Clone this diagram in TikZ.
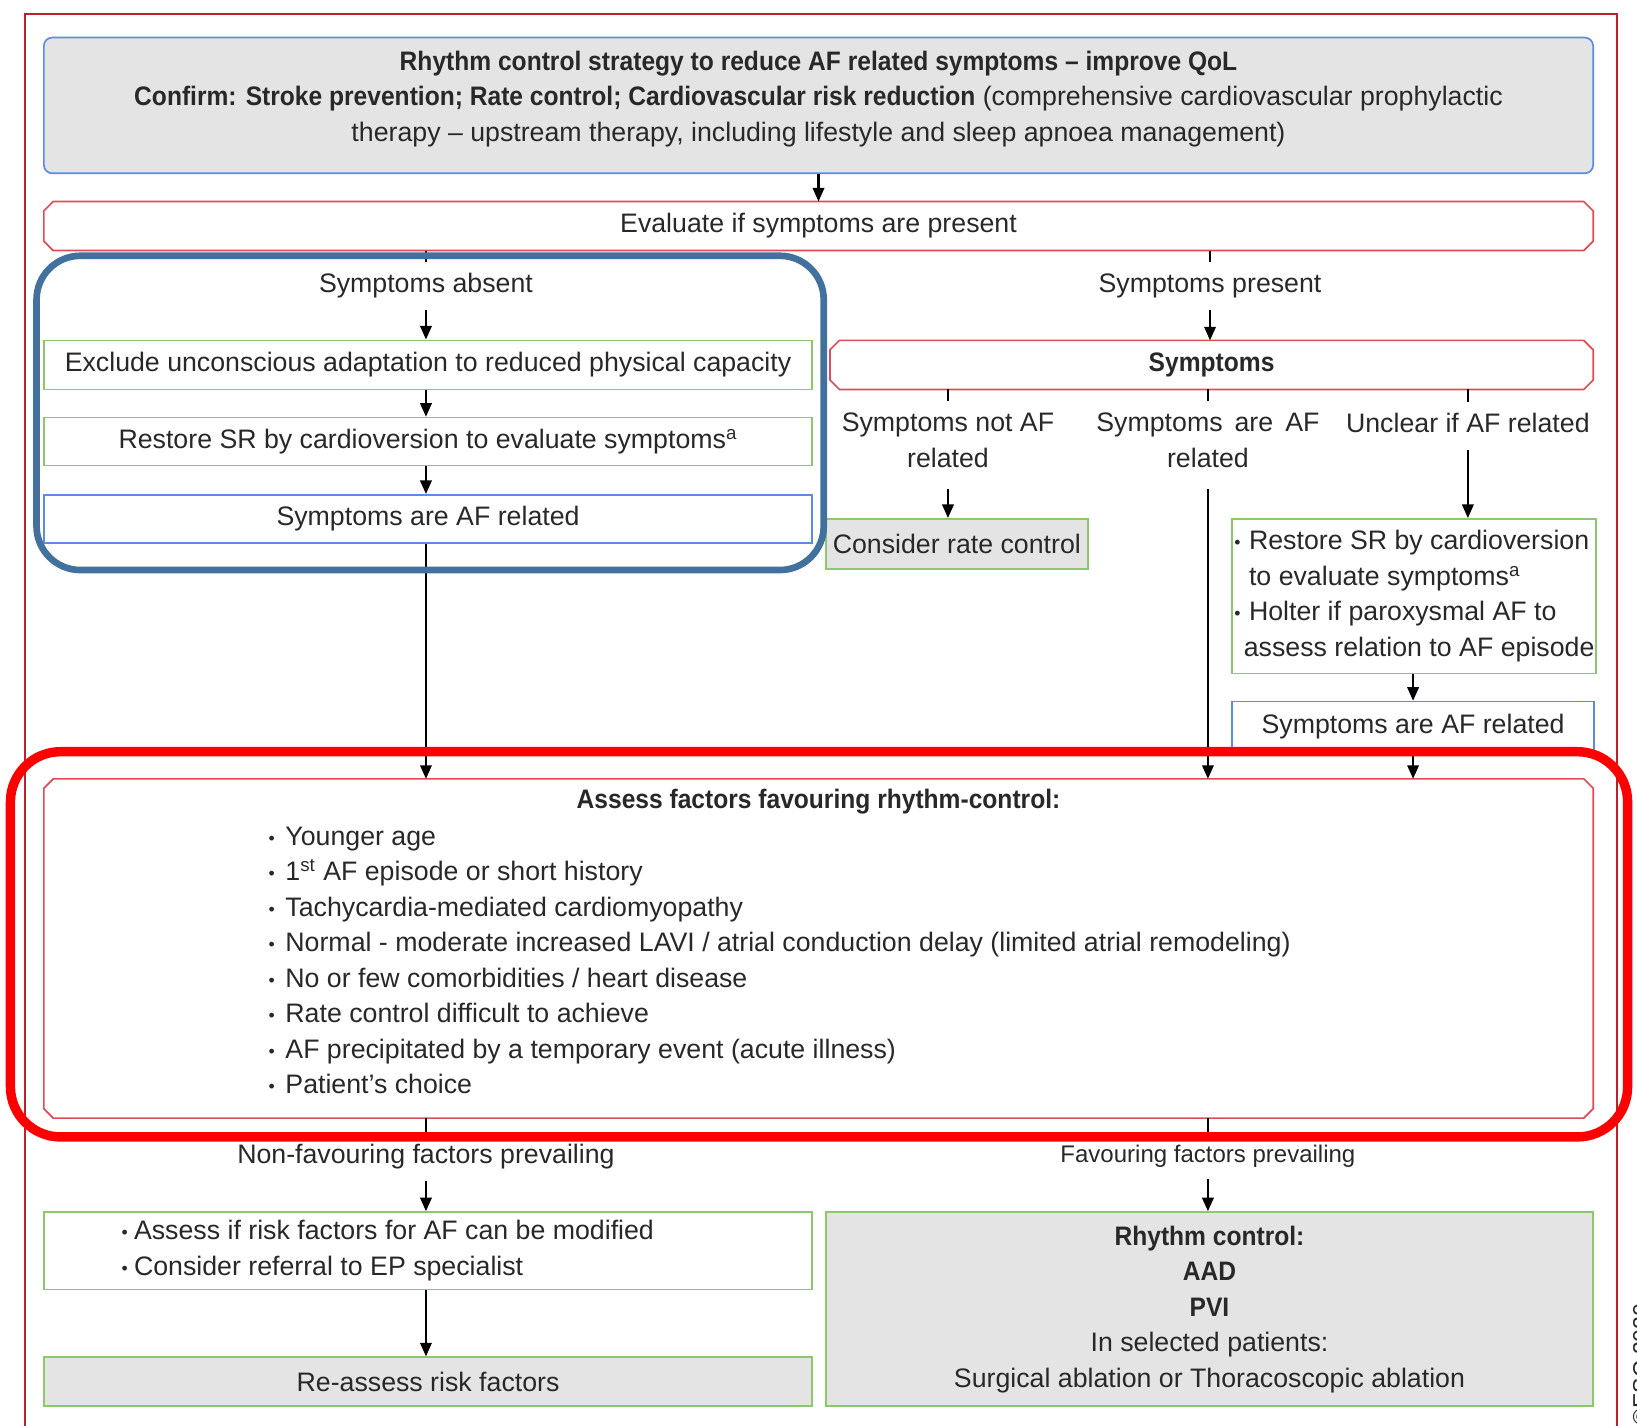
\documentclass[tikz,border=0pt]{standalone}
\usepackage{fontspec}
\setmainfont{Liberation Sans}[BoldFeatures={FakeStretch=0.92}]
\usetikzlibrary{arrows.meta}
\definecolor{frameRed}{RGB}{190,30,45}
\definecolor{chRed}{RGB}{222,76,88}
\definecolor{gBorder}{RGB}{141,200,110}
\definecolor{bBorder}{RGB}{92,140,225}
\definecolor{grayFill}{RGB}{228,228,228}
\definecolor{hlBlue}{RGB}{65,113,156}
\definecolor{hlRed}{RGB}{255,0,0}
\definecolor{txt}{RGB}{40,40,40}
\newcommand\bul[1][7pt]{\makebox[#1][l]{\raisebox{0.6pt}{\fontsize{8.5}{8.5}\selectfont\textbullet}}}
\newcommand\dn[1]{\rule[-#1]{0pt}{#1}}
\newcommand\chamf[2][4.5pt]{\draw[chline] ([xshift=#1]#2.north west) -- ([xshift=-#1]#2.north east) -- ([yshift=-#1]#2.north east) -- ([yshift=#1]#2.south east) -- ([xshift=-#1]#2.south east) -- ([xshift=#1]#2.south west) -- ([yshift=#1]#2.south west) -- ([yshift=-#1]#2.north west) -- cycle;}
\begin{document}
\begin{tikzpicture}[x=0.5pt,y=-0.5pt,
  every node/.style={text=txt,font=\fontsize{12.8}{17}\selectfont},
  basebox/.style={rectangle,inner sep=2pt,line width=0.8pt,minimum width=368pt,minimum height=23.5pt},
  greenbox/.style={basebox,draw=gBorder,fill=white},
  greybox/.style={basebox,draw=gBorder,fill=grayFill},
  bluebox/.style={basebox,draw=bBorder,fill=white},
  chambox/.style={rectangle,inner sep=2pt,outer sep=0pt},
  chline/.style={draw=chRed,line width=0.8pt,line join=miter},
  lbl/.style={inner sep=0pt,outer xsep=0pt,outer ysep=5.5pt},
  ln/.style={line width=1pt,black},
  arr/.style={ln,-{Triangle[length=6.5pt,width=5.5pt]}},
  hl/.style={rectangle,fill=none}
]
\useasboundingbox (0,0) rectangle (1568,1365);
\draw[frameRed,line width=1pt] (24,1372) -- (24,13) -- (1549,13) -- (1549,1372);

% top
\node[basebox,draw=bBorder,fill=grayFill,rounded corners=4pt,minimum width=742pt,minimum height=65pt,align=center] (top) at (784,101)
 {\textbf{Rhythm control strategy to reduce AF related symptoms – improve QoL}\\
  \textbf{Confirm: Stroke prevention; Rate control; Cardiovascular risk reduction} (comprehensive cardiovascular prophylactic\\
  therapy – upstream therapy, including lifestyle and sleep apnoea management)\dn{9.1pt}};
\node[chambox,minimum width=742pt,minimum height=23.5pt] (eval) at (784,216.5) {Evaluate if symptoms are present};
\chamf{eval}

% left column
\node[lbl] (sabs) at (408,274) {Symptoms absent};
\node[greenbox] (excl) at (410,349.5) {Exclude unconscious adaptation to reduced physical capacity};
\node[greenbox,minimum height=23pt] (restore) at (410,423) {Restore SR by cardioversion to evaluate symptoms\textsuperscript{a}};
\node[bluebox,minimum height=23pt] (afrel1) at (410,497) {Symptoms are AF related};

% right column
\node[lbl] (spres) at (1159,274) {Symptoms present};
\node[chambox,minimum width=365.5pt,minimum height=23.5pt] (symp) at (1160.5,349.5) {\textbf{Symptoms}};
\chamf{symp}
\node[lbl,align=center] (notaf) at (908,421.5) {Symptoms not AF\\related};
\node[lbl,align=center] (areaf) at (1157,421.5) {Symptoms\hspace{2.2pt} are\hspace{2.2pt} AF\\related};
\node[lbl] (uncl) at (1406,405) {Unclear if AF related};
\node[greybox,minimum width=125.5pt,minimum height=24pt] (rate) at (916.5,521) {Consider rate control};
\node[greenbox,minimum width=174.5pt,minimum height=74pt] (unclbox) at (1354.5,571) {};
\node[anchor=west,align=left,inner sep=0pt] (uncltxt) at (1182,571)
 {\bul Restore SR by cardioversion\\
  \hspace{7pt}to evaluate symptoms\textsuperscript{a}\\
  \bul Holter if paroxysmal AF to\\
  \hspace{4.5pt}assess relation to AF episode};
\node[bluebox,minimum width=173.5pt,minimum height=23.5pt] (afrel2) at (1353.5,695.5) {Symptoms are AF related};

% assess
\node[chambox,minimum width=742pt,minimum height=162.5pt] (assess) at (784,908.5) {};
\chamf{assess}
\node[inner sep=0pt] (assessT) at (784,768) {\textbf{Assess factors favouring rhythm-control:}};
\node[anchor=west,align=left,inner sep=0pt] (assessL) at (257,920)
 {\bul[8pt]Younger age\\
  \bul[8pt]1\textsuperscript{st} AF episode or short history\\
  \bul[8pt]Tachycardia-mediated cardiomyopathy\\
  \bul[8pt]Normal - moderate increased LAVI / atrial conduction delay (limited atrial remodeling)\\
  \bul[8pt]No or few comorbidities / heart disease\\
  \bul[8pt]Rate control difficult to achieve\\
  \bul[8pt]AF precipitated by a temporary event (acute illness)\\
  \bul[8pt]Patient’s choice};

% bottom
\node[lbl] (nonfav) at (408,1108) {Non-favouring factors prevailing};
\node[lbl,font=\fontsize{11.5}{14}\selectfont] (fav) at (1157,1108) {Favouring factors prevailing};
\node[greenbox,minimum height=37pt] (riskbox) at (410,1198) {};
\node[anchor=west,align=left,inner sep=0pt] (risktxt) at (116,1198)
 {\bul[6pt]Assess if risk factors for AF can be modified\\
  \bul[6pt]Consider referral to EP specialist};
\node[greybox] (reassess) at (410,1323.5) {Re-assess risk factors};
\node[greybox,minimum width=367.5pt,minimum height=93pt,align=center] (rhythm) at (1158.5,1254)
 {\textbf{Rhythm control:}\\\textbf{AAD}\\\textbf{PVI}\\In selected patients:\\Surgical ablation or Thoracoscopic ablation};

% connectors
\draw[arr] (top.south) -- (eval.north);
\draw[ln] (eval.south -| sabs) -- (sabs.north);
\draw[arr] (sabs.south) -- (excl.north -| sabs);
\draw[arr] (excl.south -| sabs) -- (restore.north -| sabs);
\draw[arr] (restore.south -| sabs) -- (afrel1.north -| sabs);
\draw[arr] (afrel1.south -| sabs) -- (assess.north -| sabs);
\draw[ln] (eval.south -| spres) -- (spres.north);
\draw[arr] (spres.south) -- (symp.north -| spres);
\draw[ln] (symp.south -| notaf) -- (notaf.north);
\draw[ln] (symp.south -| areaf) -- (areaf.north);
\draw[ln] (symp.south -| uncl) -- (uncl.north);
\draw[arr,shorten <=5pt] (notaf.south) -- (rate.north -| notaf);
\draw[arr,shorten <=5pt] (areaf.south) -- (assess.north -| areaf);
\draw[arr,shorten <=3pt] (uncl.south) -- (unclbox.north -| uncl);
\draw[arr] (unclbox.south -| afrel2) -- (afrel2.north);
\draw[arr] (afrel2.south) -- (assess.north -| afrel2);
\draw[ln] (assess.south -| nonfav) -- (nonfav.north);
\draw[arr] (nonfav.south) -- (riskbox.north -| nonfav);
\draw[ln] (assess.south -| fav) -- (fav.north);
\draw[arr] (fav.south) -- (rhythm.north -| fav);
\draw[arr] (riskbox.south -| nonfav) -- (reassess.north -| nonfav);

% highlights
\node[hl,draw=hlBlue,line width=3.2pt,rounded corners=21pt,minimum width=377pt,minimum height=150.5pt] (hlB) at (412,395.5) {};
\node[hl,draw=hlRed,line width=4.5pt,rounded corners=24pt,minimum width=774.5pt,minimum height=184.5pt] (hlR) at (784.5,904.5) {};

\node[rotate=90,inner sep=0pt,font=\fontsize{11}{13}\selectfont] (esc) at (1572,1307) {©ESC 2020};
\end{tikzpicture}
\end{document}
